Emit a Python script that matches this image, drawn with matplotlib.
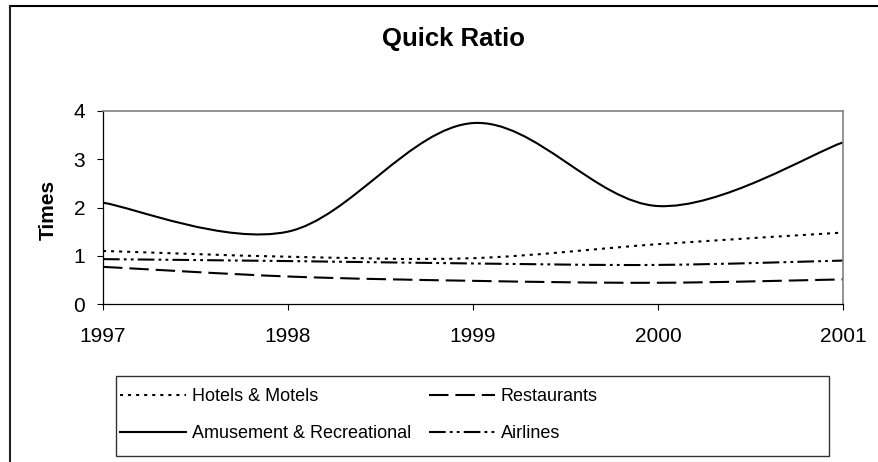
import matplotlib
matplotlib.use("Agg")
import matplotlib.pyplot as plt
from matplotlib.path import Path
from matplotlib.patches import PathPatch, Rectangle
from matplotlib.lines import Line2D

plt.rcParams['font.family'] = ['Liberation Sans', 'DejaVu Sans']
plt.rcParams['lines.scale_dashes'] = False

# 数据
years = [1997, 1998, 1999, 2000, 2001]
hotels = [1.10, 0.98, 0.95, 1.24, 1.48]
restaurants = [0.77, 0.57, 0.48, 0.44, 0.51]
amusement = [2.10, 1.50, 3.75, 2.03, 3.35]
airlines = [0.93, 0.89, 0.84, 0.81, 0.90]

series = [
    ("Hotels & Motels", hotels, (0, (2.2, 3.6))),
    ("Restaurants", restaurants, (0, (14, 5))),
    ("Amusement & Recreational", amusement, "solid"),
    ("Airlines", airlines, (0, (12, 3, 2, 3, 2, 3))),
]


def smooth_path(x, y):
    """Excel风格的平滑线：相邻点之间用三次贝塞尔曲线连接"""
    n = len(x)
    verts = [(x[0], y[0])]
    codes = [Path.MOVETO]
    for i in range(n - 1):
        i0 = max(i - 1, 0)
        i3 = min(i + 2, n - 1)
        c1 = (x[i] + (x[i + 1] - x[i0]) / 6, y[i] + (y[i + 1] - y[i0]) / 6)
        c2 = (x[i + 1] - (x[i3] - x[i]) / 6, y[i + 1] - (y[i3] - y[i]) / 6)
        verts += [c1, c2, (x[i + 1], y[i + 1])]
        codes += [Path.CURVE4] * 3
    return Path(verts, codes)


W, H = 879, 462
fig = plt.figure(figsize=(W / 100, H / 100), dpi=100)
ax = fig.add_axes([103 / W, 1 - 304 / H, 740 / W, 193 / H])

LW = 1.5
handles = {}
for name, vals, ls in series:
    patch = PathPatch(smooth_path(years, vals), fill=False, edgecolor='black',
                      lw=LW, linestyle=ls, transform=ax.transData,
                      capstyle='butt', joinstyle='round')
    ax.add_patch(patch)
    handles[name] = Line2D([], [], color='black', lw=LW, linestyle=ls,
                           dash_capstyle='butt')

ax.set_xlim(1997, 2001)
ax.set_ylim(0, 4)
ax.set_xticks(years)
ax.set_xticklabels([str(y) for y in years])
ax.set_yticks([0, 1, 2, 3, 4])
ax.tick_params(axis='x', direction='out', length=6 * 0.72, width=0.8,
               labelsize=15, pad=12)
ax.tick_params(axis='y', direction='out', length=6 * 0.72, width=0.8,
               labelsize=15, pad=8.4)
for s in ['left', 'bottom']:
    ax.spines[s].set_color('black')
    ax.spines[s].set_linewidth(0.9)
for s in ['top', 'right']:
    ax.spines[s].set_color('#808080')
    ax.spines[s].set_linewidth(1.2)

ax.set_ylabel('Times', fontsize=15, fontweight='bold')
ax.yaxis.label.set_va('center')
ax.yaxis.set_label_coords((48.5 - 103) / 740, (304 - 210) / 193)

fig.text(454 / W, 1 - 46 / H, 'Quick Ratio', fontsize=18.5, fontweight='bold',
         ha='center', va='baseline')

# 图例
order = ["Hotels & Motels", "Amusement & Recreational", "Restaurants", "Airlines"]
leg = fig.legend([handles[k] for k in order], order, ncol=2,
                 loc='upper left', bbox_to_anchor=(120 / W, 1 - 388 / H),
                 bbox_transform=fig.transFigure, frameon=False, fontsize=13,
                 handlelength=3.65, handletextpad=0.32, columnspacing=1.0,
                 labelspacing=1.13, borderpad=0, borderaxespad=0)
fig.add_artist(Rectangle((116 / W, 1 - 456 / H), 713 / W, 80 / H,
                         transform=fig.transFigure, fill=False,
                         edgecolor='#333333', lw=1.0))

# 外框
fig.add_artist(Line2D([10 / W, 1], [1 - 6 / H, 1 - 6 / H],
                      transform=fig.transFigure, color='black', lw=1.5))
fig.add_artist(Line2D([10 / W, 10 / W], [0, 1 - 6 / H],
                      transform=fig.transFigure, color='#222222', lw=1.5))

fig.savefig('out.png', dpi=100)
